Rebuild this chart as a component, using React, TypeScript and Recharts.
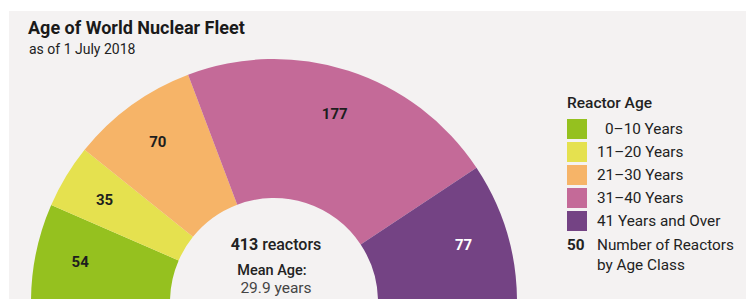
import React from 'react';
import { PieChart, Pie, Cell, Legend } from 'recharts';

const categories = ['0–10 Years', '11–20 Years', '21–30 Years', '31–40 Years', '41 Years and Over'];
const reactorCounts = [54, 35, 70, 177, 77];
const colors = ['#95c11f', '#e5e14f', '#f6b468', '#c46a98', '#744384'];
const labelColors = ['#1e1e1e', '#1e1e1e', '#1e1e1e', '#1e1e1e', '#ffffff'];
const title = 'Age of World Nuclear Fleet';
const subtitle = 'as of 1 July 2018';
const legendTitle = 'Reactor Age';
const totalLabel = '413';
const meanAge = '29.9 years';

const data = categories.map((name, i) => ({ name, value: reactorCounts[i] }));

const FONT = 'Roboto, "Noto Sans", sans-serif';
const RAD = Math.PI / 180;

const renderLabel = (props: any) => {
  const { cx, cy, midAngle, index, value } = props;
  const r = 198;
  const x = cx + r * Math.cos(-midAngle * RAD);
  const y = cy + r * Math.sin(-midAngle * RAD);
  return (
    <text
      x={x}
      y={y}
      textAnchor="middle"
      dominantBaseline="central"
      fontFamily={FONT}
      fontWeight={700}
      fontSize={15}
      fill={labelColors[index]}
    >
      {value}
    </text>
  );
};

const renderLegend = () => (
  <div style={{ fontFamily: FONT, color: '#222', fontSize: 15.3 }}>
    <div style={{ fontWeight: 500, fontSize: 15.5, height: 21, marginBottom: 3, lineHeight: '20px' }}>{legendTitle}</div>
    {categories.map((c, i) => (
      <div key={c} style={{ display: 'flex', alignItems: 'center', height: 23 }}>
        <div style={{ width: 20, height: 20, background: colors[i], marginRight: 10 }} />
        <span style={{ paddingLeft: i === 0 ? 8 : 0 }}>{c}</span>
      </div>
    ))}
    <div style={{ display: 'flex', marginTop: 3, lineHeight: '20px' }}>
      <div style={{ width: 30, fontWeight: 700 }}>50</div>
      <div>
        Number of Reactors
        <br />
        by Age Class
      </div>
    </div>
  </div>
);

export default function App() {
  return (
    <div
      style={{
        position: 'absolute',
        left: 0,
        top: 0,
        width: 746,
        height: 299,
        overflow: 'hidden',
        background: '#ffffff',
        fontFamily: FONT,
      }}
    >
      <div style={{ position: 'absolute', left: 9, top: 11, width: 737, height: 288, background: '#f4f2f2' }} />
      <div style={{ position: 'absolute', left: 0, top: 0 }}>
        <PieChart width={746} height={299} margin={{ top: 0, right: 0, bottom: 0, left: 0 }}>
          <Pie
            data={data}
            dataKey="value"
            nameKey="name"
            cx={274}
            cy={302}
            startAngle={180}
            endAngle={0}
            innerRadius={104}
            outerRadius={243}
            stroke="none"
            label={renderLabel}
            labelLine={false}
            isAnimationActive={false}
          >
            {data.map((d, i) => (
              <Cell key={d.name} fill={colors[i]} />
            ))}
          </Pie>
          <Legend
            layout="vertical"
            align="right"
            verticalAlign="top"
            content={renderLegend}
            wrapperStyle={{ position: 'absolute', left: 567, top: 93, width: 180 }}
          />
        </PieChart>
      </div>
      <svg width={746} height={299} style={{ position: 'absolute', left: 0, top: 0, pointerEvents: 'none' }}>
        <text x={28} y={34} fontFamily={FONT} fontWeight={700} fontSize={18} fill="#1a1a1a">
          {title}
        </text>
        <text x={29} y={54} fontFamily={FONT} fontSize={14} fill="#222">
          {subtitle}
        </text>
        <text x={276} y={250} textAnchor="middle" fontFamily={FONT} fontSize={16} fill="#222">
          <tspan fontWeight={700}>{totalLabel}</tspan>
          <tspan fontWeight={500}> reactors</tspan>
        </text>
        <text x={272} y={275} textAnchor="middle" fontFamily={FONT} fontWeight={500} fontSize={14.5} fill="#222">
          Mean Age:
        </text>
        <text x={276} y={293} textAnchor="middle" fontFamily={FONT} fontSize={15.5} fill="#444">
          {meanAge}
        </text>
      </svg>
    </div>
  );
}
